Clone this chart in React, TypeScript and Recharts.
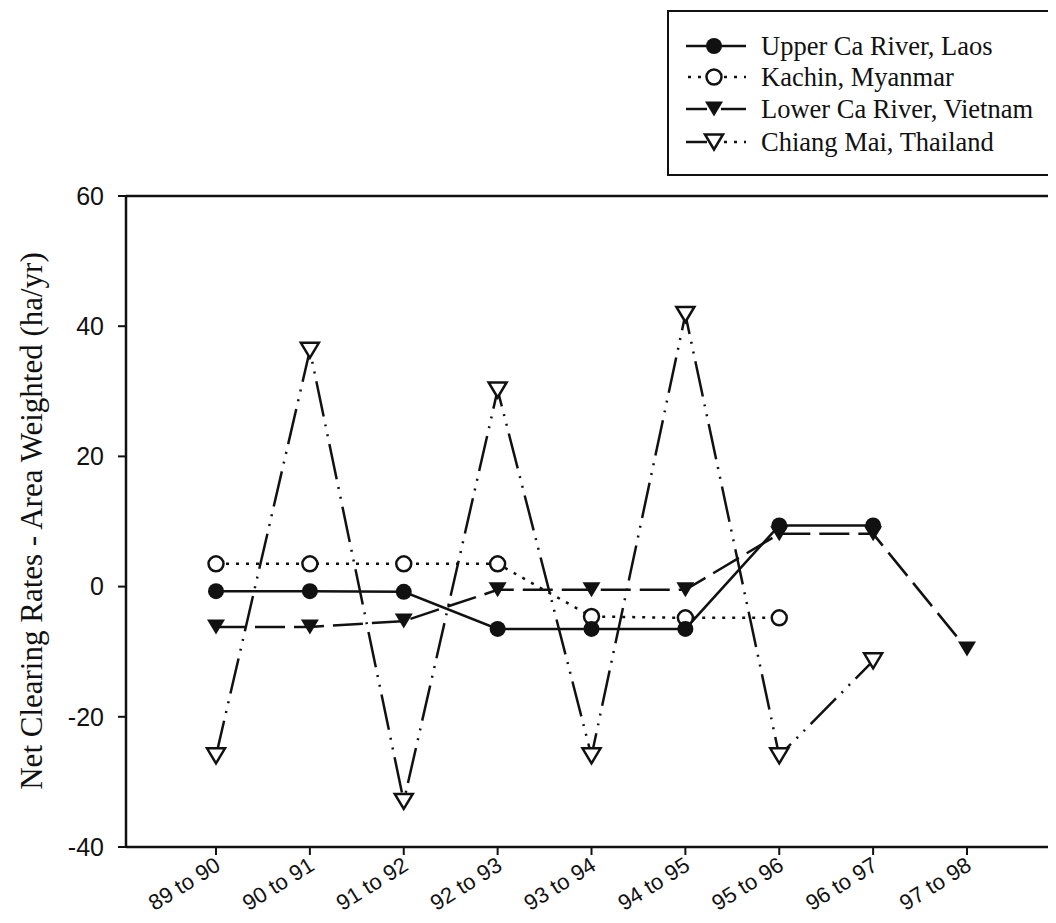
import React from "react";
import { LineChart, Line, XAxis, YAxis, ReferenceLine } from "recharts";

const periods = [
  "89 to 90",
  "90 to 91",
  "91 to 92",
  "92 to 93",
  "93 to 94",
  "94 to 95",
  "95 to 96",
  "96 to 97",
  "97 to 98",
];

const upperCaLaos = [-0.7, -0.7, -0.8, -6.5, -6.5, -6.5, 9.4, 9.4, null];
const kachinMyanmar = [3.5, 3.5, 3.5, 3.5, -4.6, -4.8, -4.8, null, null];
const lowerCaVietnam = [-6.2, -6.2, -5.3, -0.5, -0.5, -0.5, 8.1, 8.1, -9.6];
const chiangMaiThailand = [-26, 36.3, -33, 30.2, -26, 41.8, -26, -11.4, null];

const yTicks = [-40, -20, 0, 20, 40, 60];

const data = periods.map((p, i) => ({
  period: p,
  upper: upperCaLaos[i],
  kachin: kachinMyanmar[i],
  lower: lowerCaVietnam[i],
  chiang: chiangMaiThailand[i],
}));

const INK = "#111";

function marker(kind: string, cx: number, cy: number, key?: string) {
  if (kind === "filledCircle")
    return <circle key={key} cx={cx} cy={cy} r={8} fill={INK} />;
  if (kind === "openCircle")
    return <circle key={key} cx={cx} cy={cy} r={7.5} fill="#fff" stroke={INK} strokeWidth={2.5} />;
  const d = `M${cx - 9},${cy - 7.5} L${cx + 9},${cy - 7.5} L${cx},${cy + 7.5} Z`;
  if (kind === "filledTri") return <path key={key} d={d} fill={INK} />;
  return <path key={key} d={d} fill="#fff" stroke={INK} strokeWidth={2.5} strokeLinejoin="miter" />;
}

const dotOf = (kind: string) => (props: any) => {
  const { cx, cy, value, index } = props;
  if (value == null || cx == null || cy == null) return <g key={`e-${kind}-${index}`} />;
  return marker(kind, cx, cy, `${kind}-${index}`);
};

const series = [
  { key: "chiang", name: "Chiang Mai, Thailand", kind: "openTri", dash: "36 8 2 8 2 8" },
  { key: "kachin", name: "Kachin, Myanmar", kind: "openCircle", dash: "3 7" },
  { key: "lower", name: "Lower Ca River, Vietnam", kind: "filledTri", dash: "30 9" },
  { key: "upper", name: "Upper Ca River, Laos", kind: "filledCircle", dash: undefined },
];

const legendOrder = ["upper", "kachin", "lower", "chiang"];

function XTick({ x, y, payload }: any) {
  const px = x + 6;
  const py = y + 12;
  return (
    <text
      x={px}
      y={py}
      transform={`rotate(-32, ${px}, ${py})`}
      textAnchor="end"
      fontFamily="'Liberation Sans', Arial, sans-serif"
      fontSize={22}
      fill={INK}
    >
      {payload.value}
    </text>
  );
}

function LegendBox() {
  const rows = [36, 67, 99, 132];
  return (
    <svg
      width={384}
      height={166}
      style={{ position: "absolute", left: 659, top: 2 }}
    >
      <rect x={1} y={1} width={382} height={164} fill="#fff" stroke={INK} strokeWidth={2} />
      {legendOrder.map((k, i) => {
        const s = series.find((t) => t.key === k)!;
        const y = rows[i];
        let left, right;
        if (k === "kachin") {
          left = <line x1={21} x2={38} y1={y} y2={y} stroke={INK} strokeWidth={2.5} strokeDasharray="3 7" />;
          right = <line x1={57} x2={79} y1={y} y2={y} stroke={INK} strokeWidth={2.5} strokeDasharray="3 7" />;
        } else if (k === "chiang") {
          left = <line x1={19} x2={40} y1={y} y2={y} stroke={INK} strokeWidth={2.5} />;
          right = <line x1={57} x2={79} y1={y} y2={y} stroke={INK} strokeWidth={2.5} strokeDasharray="3 7" />;
        } else {
          left = <line x1={19} x2={40} y1={y} y2={y} stroke={INK} strokeWidth={2.5} />;
          right = <line x1={54} x2={79} y1={y} y2={y} stroke={INK} strokeWidth={2.5} />;
        }
        return (
          <g key={k}>
            {left}
            {right}
            {marker(s.kind, 47, y)}
            <text
              x={94}
              y={y}
              dy="0.35em"
              fontFamily="'Liberation Serif', 'Times New Roman', serif"
              fontSize={26.5}
              fill={INK}
            >
              {s.name}
            </text>
          </g>
        );
      })}
    </svg>
  );
}

export default function App() {
  return (
    <div style={{ position: "relative", width: 1048, height: 915 }}>
      <LineChart
        width={1048}
        height={915}
        data={data}
        margin={{ top: 188, right: 0, bottom: 0, left: 0 }}
      >
        <XAxis
          dataKey="period"
          height={76}
          padding={{ left: 90, right: 89 }}
          axisLine={{ stroke: INK, strokeWidth: 2.5 }}
          tickLine={{ stroke: INK, strokeWidth: 2 }}
          tickSize={8}
          tick={<XTick />}
          interval={0}
        />
        <YAxis
          width={118}
          domain={[-40, 60]}
          ticks={yTicks}
          allowDataOverflow
          axisLine={{ stroke: INK, strokeWidth: 2.5 }}
          tickLine={{ stroke: INK, strokeWidth: 2 }}
          tickSize={8}
          tickMargin={14}
          tick={{ fontSize: 25, fill: INK, fontFamily: "'Liberation Sans', Arial, sans-serif" }}
          label={{
            content: () => (
              <text
                x={34}
                y={513}
                transform="rotate(-90, 34, 513)"
                textAnchor="middle"
                fontFamily="'Liberation Serif', 'Times New Roman', serif"
                fontSize={31}
                fill={INK}
              >
                Net Clearing Rates - Area Weighted (ha/yr)
              </text>
            ),
          }}
        />
        <ReferenceLine y={60} stroke={INK} strokeWidth={2.5} />
        {series.map((s) => (
          <Line
            key={s.key}
            dataKey={s.key}
            name={s.name}
            stroke={INK}
            strokeWidth={2.5}
            strokeDasharray={s.dash}
            type="linear"
            dot={dotOf(s.kind)}
            activeDot={false}
            isAnimationActive={false}
          />
        ))}
      </LineChart>
      <LegendBox />
    </div>
  );
}
